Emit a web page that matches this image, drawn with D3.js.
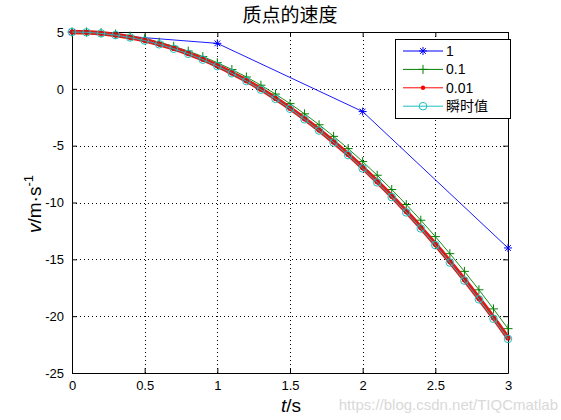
<!DOCTYPE html>
<html>
<head>
<meta charset="utf-8">
<script src="https://cdn.jsdelivr.net/npm/d3@7"></script>
<style>
  body { margin: 0; background: #fff; }
  svg text { font-family: Arial, "Liberation Sans", "Noto Sans CJK SC", sans-serif; }
</style>
</head>
<body>
<div id="chart"></div>
<script>
// values
const tCoarse = [0, 1, 2, 3];
const vStep1 = [5, 4, -2, -14];

const tFine = [0, 0.1, 0.2, 0.3, 0.4, 0.5, 0.6, 0.7, 0.8, 0.9, 1.0,
  1.1, 1.2, 1.3, 1.4, 1.5, 1.6, 1.7, 1.8, 1.9, 2.0,
  2.1, 2.2, 2.3, 2.4, 2.5, 2.6, 2.7, 2.8, 2.9, 3.0];
const vStep01 = [5.00, 5.00, 4.94, 4.82, 4.64, 4.40, 4.10, 3.74, 3.32, 2.84, 2.30,
  1.70, 1.04, 0.32, -0.46, -1.30, -2.20, -3.16, -4.18, -5.26, -6.40,
  -7.60, -8.86, -10.18, -11.56, -13.00, -14.50, -16.06, -17.68, -19.36, -21.10];
const vStep001 = [5.00, 4.97, 4.89, 4.74, 4.53, 4.27, 3.94, 3.55, 3.10, 2.60, 2.03,
  1.40, 0.72, -0.03, -0.84, -1.71, -2.63, -3.62, -4.67, -5.77, -6.94,
  -8.17, -9.45, -10.80, -12.21, -13.68, -15.20, -16.79, -18.44, -20.14, -21.91];
const vExact = [5.00, 4.97, 4.88, 4.73, 4.52, 4.25, 3.92, 3.53, 3.08, 2.57, 2.00,
  1.37, 0.68, -0.07, -0.88, -1.75, -2.68, -3.67, -4.72, -5.83, -7.00,
  -8.23, -9.52, -10.87, -12.28, -13.75, -15.28, -16.87, -18.52, -20.23, -22.00];

const xTicks = [0, 0.5, 1, 1.5, 2, 2.5, 3];
const xTickLabels = ["0", "0.5", "1", "1.5", "2", "2.5", "3"];
const yTicks = [5, 0, -5, -10, -15, -20, -25];
const yTickLabels = ["5", "0", "-5", "-10", "-15", "-20", "-25"];
const legendLabels = ["1", "0.1", "0.01", "瞬时值"];

const W = 561, H = 420;
const PLOT = { left: 72, right: 508, top: 32, bottom: 373 };

const svg = d3.select("#chart").append("svg")
  .attr("width", W).attr("height", H);

const x = d3.scaleLinear().domain([0, 3]).range([PLOT.left, PLOT.right]);
const y = d3.scaleLinear().domain([-25, 5]).range([PLOT.bottom, PLOT.top]);

// grid
const grid = svg.append("g")
  .attr("stroke", "#000").attr("stroke-width", 1)
  .attr("stroke-dasharray", "1,3").attr("shape-rendering", "crispEdges");
xTicks.slice(1, -1).forEach(t => {
  grid.append("line").attr("x1", Math.round(x(t)) + 0.5).attr("x2", Math.round(x(t)) + 0.5)
    .attr("y1", PLOT.top).attr("y2", PLOT.bottom);
});
yTicks.slice(1, -1).forEach(v => {
  grid.append("line").attr("y1", Math.round(y(v)) + 0.5).attr("y2", Math.round(y(v)) + 0.5)
    .attr("x1", PLOT.left).attr("x2", PLOT.right);
});

// axes (MATLAB style: ticks inside, box on)
const fmtX = (d, i) => xTickLabels[i];
const fmtY = (d, i) => yTickLabels[i];
const axB = svg.append("g").attr("transform", `translate(0,${PLOT.bottom})`)
  .call(d3.axisBottom(x).tickValues(xTicks).tickFormat(fmtX).tickSizeInner(-5).tickSizeOuter(0).tickPadding(8));
const axT = svg.append("g").attr("transform", `translate(0,${PLOT.top})`)
  .call(d3.axisTop(x).tickValues(xTicks).tickFormat("").tickSizeInner(-5).tickSizeOuter(0));
const axL = svg.append("g").attr("transform", `translate(${PLOT.left},0)`)
  .call(d3.axisLeft(y).tickValues(yTicks).tickFormat(fmtY).tickSizeInner(-5).tickSizeOuter(0).tickPadding(8));
const axR = svg.append("g").attr("transform", `translate(${PLOT.right},0)`)
  .call(d3.axisRight(y).tickValues(yTicks).tickFormat("").tickSizeInner(-5).tickSizeOuter(0));
[axB, axT, axL, axR].forEach(a => {
  a.selectAll(".domain").attr("stroke", "#000");
  a.selectAll("line").attr("stroke", "#000");
  a.selectAll("text").attr("fill", "#000").style("font-size", "13px")
    .style("font-family", "Arial, 'Liberation Sans', sans-serif");
});

// series
const line = d3.line().x(d => x(d[0])).y(d => y(d[1]));
const zip = (ts, vs) => ts.map((t, i) => [t, vs[i]]);

const COLORS = { s1: "#0000ff", s01: "#008000", s001: "#ff0000", exact: "#1fbfbf" };

function star(g, cx, cy, r, color) {
  const d = r * 0.72;
  g.append("path")
    .attr("d", `M${cx - r},${cy}L${cx + r},${cy}M${cx},${cy - r}L${cx},${cy + r}` +
      `M${cx - d},${cy - d}L${cx + d},${cy + d}M${cx - d},${cy + d}L${cx + d},${cy - d}`)
    .attr("stroke", color).attr("stroke-width", 1).attr("fill", "none");
}
function plus(g, cx, cy, r, color) {
  g.append("path")
    .attr("d", `M${cx - r},${cy}L${cx + r},${cy}M${cx},${cy - r}L${cx},${cy + r}`)
    .attr("stroke", color).attr("stroke-width", 1).attr("fill", "none");
}
function dot(g, cx, cy, r, color) {
  g.append("circle").attr("cx", cx).attr("cy", cy).attr("r", r).attr("fill", color);
}
function ring(g, cx, cy, r, color) {
  g.append("circle").attr("cx", cx).attr("cy", cy).attr("r", r)
    .attr("fill", "none").attr("stroke", color).attr("stroke-width", 1);
}

const plotG = svg.append("g");

const d1 = zip(tCoarse, vStep1);
plotG.append("path").datum(d1).attr("d", line)
  .attr("fill", "none").attr("stroke", COLORS.s1).attr("stroke-width", 0.9);
d1.forEach(p => star(plotG, x(p[0]), y(p[1]), 4, COLORS.s1));

const d01 = zip(tFine, vStep01);
plotG.append("path").datum(d01).attr("d", line)
  .attr("fill", "none").attr("stroke", COLORS.s01).attr("stroke-width", 0.9);
d01.forEach(p => plus(plotG, x(p[0]), y(p[1]), 4.5, COLORS.s01));

const d001 = zip(tFine, vStep001);
plotG.append("path").datum(d001).attr("d", d3.line().curve(d3.curveMonotoneX).x(d => x(d[0])).y(d => y(d[1])))
  .attr("fill", "none").attr("stroke", "#e01818").attr("stroke-width", 4.5);
d001.forEach(p => dot(plotG, x(p[0]), y(p[1]), 2.6, "#c81414"));

const dEx = zip(tFine, vExact);
plotG.append("path").datum(dEx).attr("d", line)
  .attr("fill", "none").attr("stroke", COLORS.exact).attr("stroke-width", 0.9);
dEx.forEach(p => ring(plotG, x(p[0]), y(p[1]), 3.8, COLORS.exact));

// legend
const lg = svg.append("g");
lg.append("rect").attr("x", 395.5).attr("y", 39.5).attr("width", 115).attr("height", 79)
  .attr("fill", "#fff").attr("stroke", "#000").attr("stroke-width", 1);
const legendColors = [COLORS.s1, COLORS.s01, COLORS.s001, COLORS.exact];
const legendMarkers = [star, plus, dot, ring];
const legendSizes = [4, 4.5, 2.2, 3.8];
legendLabels.forEach((lab, i) => {
  const cy = 51 + i * 18.4;
  lg.append("line").attr("x1", 403).attr("x2", 443).attr("y1", cy).attr("y2", cy)
    .attr("stroke", legendColors[i]).attr("stroke-width", 1);
  legendMarkers[i](lg, 423, cy, legendSizes[i], legendColors[i]);
  lg.append("text").attr("x", 446).attr("y", cy + 5).text(lab)
    .style("font-size", "14px").attr("fill", "#000");
});

// title and labels
svg.append("text").attr("x", 290).attr("y", 22).attr("text-anchor", "middle")
  .style("font-family", "'Noto Sans CJK SC', sans-serif").style("font-size", "19px")
  .text("质点的速度");

const xl = svg.append("text").attr("x", 291).attr("y", 412).attr("text-anchor", "middle")
  .style("font-size", "19px");
xl.append("tspan").style("font-style", "italic").text("t");
xl.append("tspan").text("/s");

const yl = svg.append("text").attr("transform", "translate(41,204) rotate(-90)")
  .attr("text-anchor", "middle").style("font-size", "19px");
yl.append("tspan").style("font-style", "italic").text("v");
yl.append("tspan").text("/m·s");
yl.append("tspan").attr("dy", -8).style("font-size", "13px").text("-1");

// watermark
svg.append("text").attr("x", 558).attr("y", 410).attr("text-anchor", "end")
  .style("font-size", "15px").attr("fill", "#d9d9d9")
  .text("https://blog.csdn.net/TIQCmatlab");
</script>
</body>
</html>
